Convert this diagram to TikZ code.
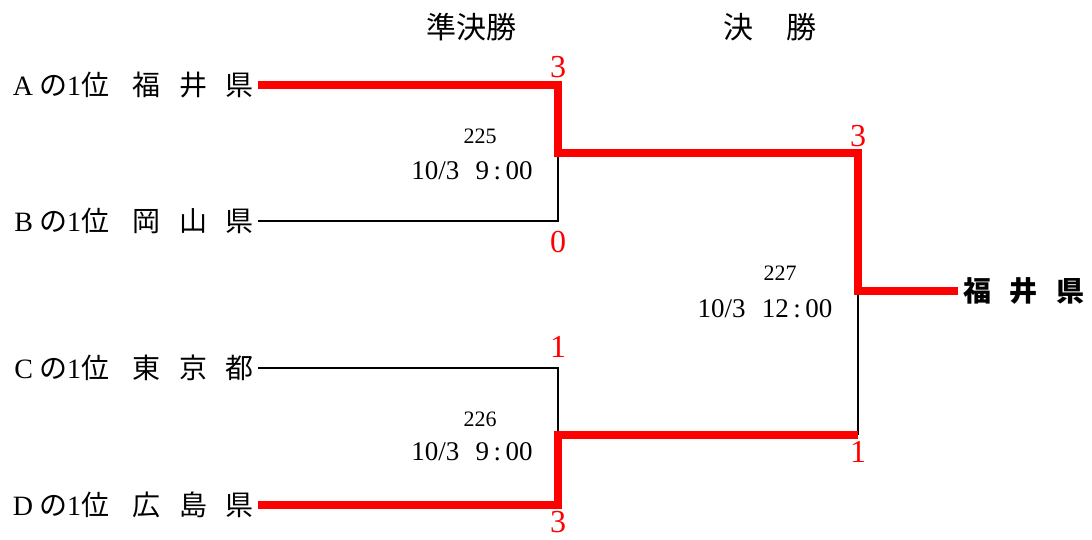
\documentclass[tikz,border=0pt]{standalone}
\usepackage{fontspec}
\setmainfont{Liberation Serif}
\newfontfamily\jp{Noto Sans CJK JP}
\usetikzlibrary{positioning}
\newcommand{\kgap}{\hspace{.66em}}
\tikzset{
  win/.style={red, line width=7.5pt, line join=miter},
  lose/.style={black, line width=2.2pt},
  team/.style={anchor=east, inner xsep=4pt, inner ysep=0pt, text height=24.6pt, text depth=3.4pt, font=\fontsize{28}{28}\selectfont},
  head/.style={font=\jp\fontsize{30}{30}\selectfont},
  score/.style={red, font=\fontsize{32}{32}\selectfont},
  match/.style={font=\fontsize{22}{22}\selectfont},
  when/.style={font=\fontsize{27}{27}\selectfont}
}
\begin{document}
\begin{tikzpicture}[x=1pt,y=-1pt]
  \useasboundingbox (0,0) rectangle (1092,540);
  \node[head] (h1) at (471,27) {準決勝};
  \node[head] (h2) at (770,27) {決\hspace{1.1em}勝};
  % teams
  \node[team] (A) at (258,85) {A\kern6pt{\jp の}1{\jp 位}\hspace{.85em}{\jp 福}\kgap{\jp 井}\kgap{\jp 県}};
  \node[team] (B) at (258,221) {B\kern6pt{\jp の}1{\jp 位}\hspace{.85em}{\jp 岡}\kgap{\jp 山}\kgap{\jp 県}};
  \node[team] (C) at (258,368) {C\kern6pt{\jp の}1{\jp 位}\hspace{.85em}{\jp 東}\kgap{\jp 京}\kgap{\jp 都}};
  \node[team] (D) at (258,505) {D\kern6pt{\jp の}1{\jp 位}\hspace{.85em}{\jp 広}\kgap{\jp 島}\kgap{\jp 県}};
  \node[team, anchor=west, inner xsep=5pt, font=\jp\bfseries\fontsize{28}{28}\selectfont] (W) at (958,291) {福\kgap 井\kgap 県};
  \coordinate (sf1) at (558,153);
  \coordinate (sf2) at (558,435);
  \coordinate (fin) at (858,291);
  % losers
  \draw [lose] (B.east) -| (sf1);
  \draw [lose] (C.east) -| (sf2);
  \draw [lose] (fin) -- (fin |- sf2);
  % winners
  \draw [win] (D.east) -| (sf2) -- (sf2 -| fin);
  \draw [win] (A.east) -| (sf1) -| (fin) -- (W.west);
  % scores
  \node[score] (s1) at (558,67) {3};
  \node[score] (s2) at (558,242) {0};
  \node[score] (s3) at (558,347) {1};
  \node[score] (s4) at (558,522) {3};
  \node[score] (s5) at (858,136) {3};
  \node[score] (s6) at (858,452) {1};
  % match numbers and times
  \node[match] (m1) at (480,136) {225};
  \node[when] (t1) at (472,171) {10/3\hspace{.6em}9\,:\,00};
  \node[match] (m2) at (480,419) {226};
  \node[when] (t2) at (472,452) {10/3\hspace{.6em}9\,:\,00};
  \node[match] (m3) at (780,273) {227};
  \node[when] (t3) at (765,309) {10/3\hspace{.6em}12\,:\,00};
\end{tikzpicture}
\end{document}
